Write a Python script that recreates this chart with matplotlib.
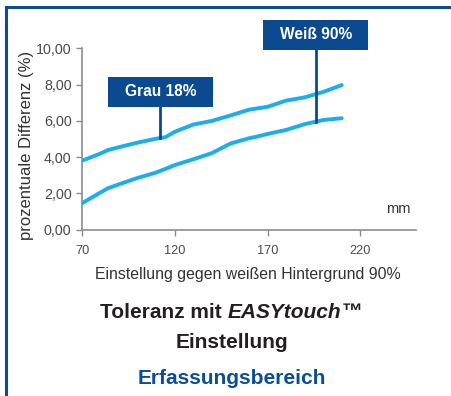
import matplotlib.pyplot as plt
from matplotlib.patches import Rectangle
from matplotlib.lines import Line2D

plt.rcParams['font.family'] = ['Liberation Sans', 'DejaVu Sans']

# distance setting (mm) and percentage difference for both references
dist = [70, 80, 84, 90, 100, 110, 115, 120, 130, 140, 150, 160, 165, 170, 180, 190, 200, 210]
grau_18 = [3.80, 4.20, 4.39, 4.55, 4.80, 5.02, 5.10, 5.40, 5.80, 6.00, 6.30, 6.62, 6.70, 6.78, 7.12, 7.30, 7.60, 7.98]
weiss_90 = [1.45, 2.05, 2.28, 2.50, 2.85, 3.15, 3.35, 3.56, 3.88, 4.22, 4.75, 5.04, 5.15, 5.28, 5.50, 5.82, 6.05, 6.15]

x_ticks = [70, 120, 170, 220]
y_ticks = [0, 2, 4, 6, 8, 10]
y_ticklabels = ['0,00', '2,00', '4,00', '6,00', '8,00', '10,00']

# callouts: text, x of the pointer, value it points to, box centre
callouts = [('Grau 18%', 112.2, 5.08, 7.6),
            ('Weiß 90%', 196.1, 5.96, 10.77)]

LINE = '#1aaeea'
NAVY = '#0b4a8f'
TEXT = '#231f20'
GREY = '#8c8c8c'
W, H = 452, 396

fig = plt.figure(figsize=(W / 100, H / 100), dpi=100)
ax = fig.add_axes([82 / W, 1 - 229.5 / H, 334 / W, 181 / H])

ax.plot(dist, grau_18, color=LINE, lw=2.8, solid_capstyle='round', zorder=3)
ax.plot(dist, weiss_90, color=LINE, lw=2.8, solid_capstyle='round', zorder=3)

ax.set_xlim(70, 250)
ax.set_ylim(0, 10)
ax.set_xticks(x_ticks)
ax.set_yticks(y_ticks)
ax.set_yticklabels(y_ticklabels)
ax.tick_params(colors=GREY, labelcolor='#4a4a4a', length=4, width=1)
ax.tick_params(axis='y', labelsize=10.3, pad=3.5)
ax.tick_params(axis='x', labelsize=9.2, pad=7.5)
for s in ['top', 'right']:
    ax.spines[s].set_visible(False)
for s in ['left', 'bottom']:
    ax.spines[s].set_color(GREY)
    ax.spines[s].set_linewidth(1.2)

fig.text(247.5 / W, 1 - 275 / H, 'Einstellung gegen weißen Hintergrund 90%',
         fontsize=11.4, color='#333333', ha='center', va='center')
fig.text(27 / W, 1 - 145.5 / H, 'prozentuale Differenz (%)', rotation=90,
         fontsize=12, color='#333333', ha='center', va='center')
ax.text(240.5, 1.13, 'mm', fontsize=10.5, color='#333333', ha='center', va='center')

# callout boxes with pointer lines
bw, bh = 105 / 1.856, 30 / 18.1
for label, px, py, cy in callouts:
    ax.add_line(Line2D([px, px], [py, cy], color=NAVY, lw=2, zorder=4, clip_on=False))
    ax.add_patch(Rectangle((px - bw / 2, cy - bh / 2), bw, bh, facecolor=NAVY,
                           edgecolor='none', zorder=5, clip_on=False))
    ax.text(px, cy, label, color='white', fontsize=11.2, fontweight='bold',
            ha='center', va='center', zorder=6, clip_on=False)

# title lines underneath the chart
fig.canvas.draw()
r = fig.canvas.get_renderer()
parts = [('Toleranz mit ', 'normal'), ('EASYtouch', 'italic'), ('™', 'normal')]
texts = []
for s, style in parts:
    t = fig.text(0, 1 - 313 / H, s, fontsize=15, fontweight='bold', style=style,
                 color=TEXT, va='center', ha='left')
    texts.append(t)
widths = [t.get_window_extent(r).width for t in texts]
x0 = 231.5 - sum(widths) / 2
for t, w in zip(texts, widths):
    t.set_x(x0 / W)
    x0 += w

fig.text(231.5 / W, 1 - 342 / H, 'Einstellung', fontsize=15, fontweight='bold',
         color=TEXT, ha='center', va='center')
fig.text(231.5 / W, 1 - 378 / H, 'Erfassungsbereich', fontsize=15, fontweight='bold',
         color='#0a4d99', ha='center', va='center')

# frame on the top and left edge
fig.add_artist(Line2D([6 / W, 1], [1 - 7 / H, 1 - 7 / H], color='#0b4d96', lw=2.2,
                      transform=fig.transFigure))
fig.add_artist(Line2D([6 / W, 6 / W], [0, 1 - 7 / H], color='#0b4d96', lw=2.2,
                      transform=fig.transFigure))

fig.savefig('out.png', dpi=100)
